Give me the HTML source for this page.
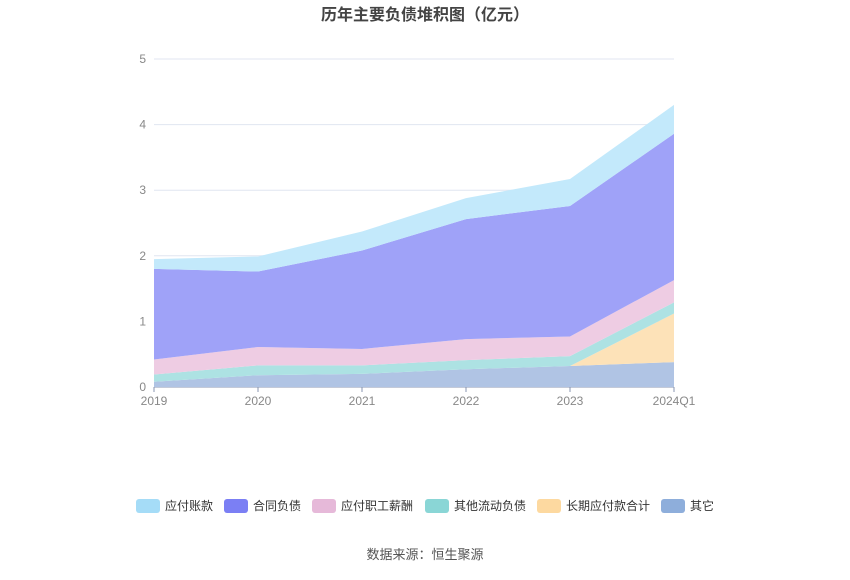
<!DOCTYPE html>
<html><head><meta charset="utf-8"><style>
body{margin:0;background:#fff;font-family:"Liberation Sans","Noto Sans CJK SC",sans-serif;}
</style></head><body>
<svg width="850" height="575" xmlns="http://www.w3.org/2000/svg" font-family="Liberation Sans, Noto Sans CJK SC, sans-serif">
<text x="425" y="20" text-anchor="middle" font-size="16" font-weight="bold" fill="#444">历年主要负债堆积图（亿元）</text>
<g id="grid"></g><g id="areas"></g><g id="axis"></g><g id="legend"></g>
<text x="425" y="559" text-anchor="middle" font-size="13" fill="#555">数据来源：恒生聚源</text>
</svg>
<script>
const categories=["2019","2020","2021","2022","2023","2024Q1"];
const seriesNames=["其它","长期应付款合计","其他流动负债","应付职工薪酬","合同负债","应付账款"];
const other=[0.08,0.18,0.2,0.27,0.32,0.38];
const longPay=[0,0,0,0,0,0.74];
const otherCur=[0.11,0.15,0.13,0.14,0.15,0.17];
const staff=[0.23,0.28,0.25,0.32,0.30,0.34];
const contract=[1.38,1.15,1.50,1.83,1.99,2.23];
const payable=[0.15,0.23,0.29,0.32,0.41,0.44];
const yTicks=[0,1,2,3,4,5];
const legendOrder=["应付账款","合同负债","应付职工薪酬","其他流动负债","长期应付款合计","其它"];
const NS="http://www.w3.org/2000/svg";
const x=i=>154+i*104, y=v=>387-v*65.6;
const fills=["#b0c4e4","#fde2b8","#ade2e3","#eecce3","#9fa2f8","#c3e9fb"];
const lcol={"应付账款":"#a5dcf7","合同负债":"#7b7ff4","应付职工薪酬":"#e6b9d9","其他流动负债":"#8ad6d6","长期应付款合计":"#fdd9a0","其它":"#8eaedb"};
const data=[other,longPay,otherCur,staff,contract,payable];
const grid=document.getElementById('grid');
yTicks.forEach(t=>{
 const l=document.createElementNS(NS,'line');
 
 
 l.setAttribute('x1',154);l.setAttribute('x2',674);l.setAttribute('y1',y(t));l.setAttribute('y2',y(t));
 l.setAttribute('stroke',t===0?'#8896b0':'#e0e6f1');grid.appendChild(l);
 const tx=document.createElementNS(NS,'text');
 
 
 tx.setAttribute('x',146);tx.setAttribute('y',y(t)+4);tx.setAttribute('text-anchor','end');
 tx.setAttribute('font-size','12');tx.setAttribute('fill','#888');tx.textContent=t;grid.appendChild(tx);
});
const areas=document.getElementById('areas');
let base=categories.map(()=>0);
data.forEach((s,k)=>{
 const top=base.map((b,i)=>b+s[i]);
 let d='M'+top.map((v,i)=>x(i)+','+y(v)).join(' L');
 for(let i=categories.length-1;i>=0;i--)d+=' L'+x(i)+','+y(base[i]);
 const p=document.createElementNS(NS,'path');
 
 
 p.setAttribute('d',d+'Z');p.setAttribute('fill',fills[k]);areas.appendChild(p);
 base=top;
});
const ax=document.getElementById('axis');
categories.forEach((c,i)=>{
 const t=document.createElementNS(NS,'line');
 
 
 t.setAttribute('x1',x(i));t.setAttribute('x2',x(i));t.setAttribute('y1',387);t.setAttribute('y2',392);t.setAttribute('stroke','#8896b0');ax.appendChild(t);
 const tx=document.createElementNS(NS,'text');
 
 
 tx.setAttribute('x',x(i));tx.setAttribute('y',405);tx.setAttribute('text-anchor','middle');
 tx.setAttribute('font-size','12');tx.setAttribute('fill','#888');tx.textContent=c;ax.appendChild(tx);
});
const lg=document.getElementById('legend');
const lx=[136,224,312,425,537,661];
legendOrder.forEach((n,i)=>{
 const g=document.createElementNS(NS,'g');
 
 
 const r=document.createElementNS(NS,'rect');
 r.setAttribute('x',lx[i]);r.setAttribute('y',499);r.setAttribute('width',24);r.setAttribute('height',14);r.setAttribute('rx',3);r.setAttribute('fill',lcol[n]);
 g.appendChild(r);
 const t=document.createElementNS(NS,'text');
 t.setAttribute('x',lx[i]+29);t.setAttribute('y',510);t.setAttribute('font-size','12');t.setAttribute('fill','#333');t.textContent=n;
 g.appendChild(t);lg.appendChild(g);
});
</script>
</body></html>
